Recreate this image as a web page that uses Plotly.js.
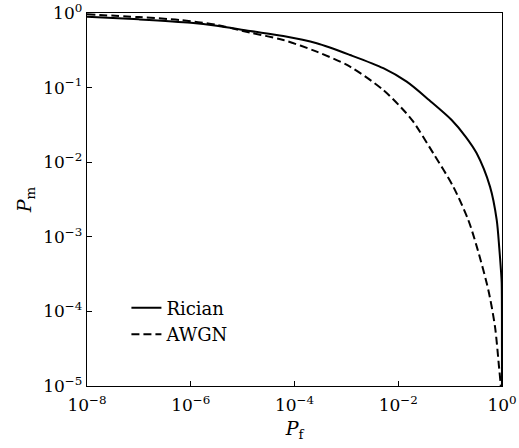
<!DOCTYPE html>
<html>
<head>
<meta charset="utf-8">
<script src="https://cdn.plot.ly/plotly-3.0.1.min.js"></script>
<style>html,body{margin:0;padding:0;background:#fff;}#plot{width:519px;height:448px;}</style>
</head>
<body>
<div id="plot"></div>
<script>
// Rician (solid) curve: false-alarm probability vs. miss probability
const ricianPf = [1e-8, 1e-7, 1e-6, 3.16e-6, 1.387e-5, 6.08e-5, 2.68e-4, 1.175e-3, 5.15e-3, 1.455e-2, 0.0398, 0.107, 0.2, 0.325, 0.587, 0.791, 0.887, 0.955, 0.986, 0.998, 1];
const ricianPm = [0.891, 0.822, 0.741, 0.676, 0.574, 0.492, 0.393, 0.274, 0.182, 0.12, 0.0676, 0.0368, 0.0219, 0.01315, 4.7e-3, 1.68e-3, 7.0e-4, 3.55e-4, 2.4e-4, 3.16e-5, 1e-6];
// AWGN (dashed) curve
const awgnPf = [1e-8, 1e-7, 6.3e-7, 3.16e-6, 1.387e-5, 6.08e-5, 2.68e-4, 1.175e-3, 5.15e-3, 1.35e-2, 1.95e-2, 0.0474, 0.115, 0.224, 0.334, 0.545, 0.733, 0.875, 0.944, 0.977];
const awgnPm = [0.959, 0.881, 0.805, 0.692, 0.545, 0.435, 0.303, 0.191, 0.0929, 0.0475, 0.0349, 0.01315, 4.7e-3, 1.68e-3, 7.0e-4, 1.94e-4, 6.24e-5, 1.82e-5, 1.03e-5, 5e-6];
const seriesNames = ["Rician", "AWGN"];
// tick labels
const xTickVals = [1e-8, 1e-6, 1e-4, 1e-2, 1];
const xTickText = ["10<sup>−8</sup>", "10<sup>−6</sup>", "10<sup>−4</sup>", "10<sup>−2</sup>", "10<sup>0</sup>"];
const yTickVals = [1e-5, 1e-4, 1e-3, 1e-2, 1e-1, 1];
const yTickText = ["10<sup>−5</sup>", "10<sup>−4</sup>", "10<sup>−3</sup>", "10<sup>−2</sup>", "10<sup>−1</sup>", "10<sup>0</sup>"];

const FONT = "DejaVu Serif";

const traces = [
  {x: ricianPf, y: ricianPm, name: seriesNames[0], type: "scatter", mode: "lines",
   line: {color: "#000", width: 2, dash: "solid", shape: "spline", smoothing: 0.8}},
  {x: awgnPf, y: awgnPm, name: seriesNames[1], type: "scatter", mode: "lines",
   line: {color: "#000", width: 2, dash: "8px,4px", shape: "spline", smoothing: 0.8}}
];

const axisCommon = {
  type: "log",
  showgrid: false,
  zeroline: false,
  showline: true,
  linecolor: "#000",
  linewidth: 1.3,
  mirror: true,
  ticks: "inside",
  ticklen: 5,
  tickwidth: 1.3,
  tickcolor: "#000",
  tickmode: "array",
  tickfont: {family: FONT, size: 17, color: "#000"}
};

const layout = {
  width: 519, height: 448,
  margin: {l: 87, r: 17, t: 13, b: 62},
  paper_bgcolor: "#fff", plot_bgcolor: "#fff",
  font: {family: FONT, color: "#000"},
  showlegend: true,
  legend: {x: 0.095, y: 0.174, xanchor: "left", yanchor: "middle",
           bgcolor: "rgba(0,0,0,0)", borderwidth: 0,
           font: {family: FONT, size: 18, color: "#000"}, tracegroupgap: 0},
  xaxis: Object.assign({}, axisCommon, {
    range: [-8, 0], tickvals: xTickVals, ticktext: xTickText,
    ticklabelstandoff: 3,
    title: {text: "<i>P</i><sub>f</sub>", font: {family: FONT, size: 19, color: "#000"}, standoff: 8}
  }),
  yaxis: Object.assign({}, axisCommon, {
    range: [-5, 0], tickvals: yTickVals, ticktext: yTickText,
    title: {text: "<i>P</i><sub>m</sub>", font: {family: FONT, size: 19, color: "#000"}, standoff: 6}
  })
};

Plotly.newPlot("plot", traces, layout, {displayModeBar: false, staticPlot: true});
</script>
</body>
</html>
